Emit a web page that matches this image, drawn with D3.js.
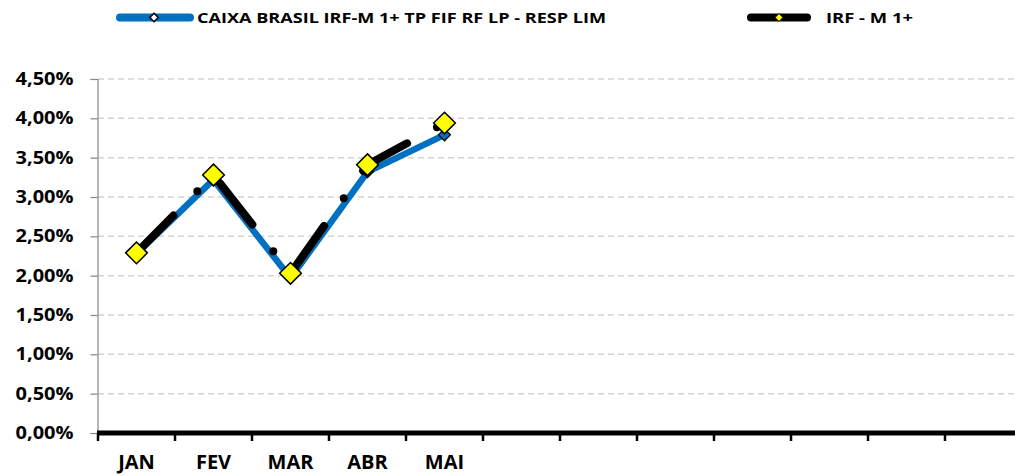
<!DOCTYPE html>
<html>
<head>
<meta charset="utf-8">
<script src="https://cdn.jsdelivr.net/npm/d3@7"></script>
<style>
  html, body { margin: 0; padding: 0; background: #fff; overflow: hidden; }
  svg { display: block; }
  text { font-family: "Open Sans", "Liberation Sans", sans-serif; font-weight: bold; fill: #000; }
</style>
</head>
<body>
<div id="chart"></div>
<script>
let months = ["JAN", "FEV", "MAR", "ABR", "MAI", "JUN", "JUL", "AGO", "SET", "OUT", "NOV", "DEZ"];
let fundValues = [0.0228, 0.0322, 0.0197, 0.0332, 0.0379];
let indexValues = [0.0229, 0.0328, 0.0203, 0.0341, 0.0394];
let yTicks = [0, 0.005, 0.01, 0.015, 0.02, 0.025, 0.03, 0.035, 0.04, 0.045];
let seriesNames = ["CAIXA BRASIL IRF-M 1+ TP FIF RF LP - RESP LIM", "IRF - M 1+"];

var width = 1015, height = 476;

var svg = d3.select('#chart')
    .append('svg')
    .attr('width', width)
    .attr('height', height);

var x = d3.scaleBand()
    .domain(months)
    .range([98, 98 + 77 * 12])
    .paddingInner(0)
    .paddingOuter(0);

var y = d3.scaleLinear()
    .domain([0, 0.045])
    .range([433, 79]);

var fmt = function (d) { return (d * 100).toFixed(2).replace('.', ',') + '%'; };

// gridlines
svg.append('g')
    .selectAll('line')
    .data(yTicks.filter(function (d) { return d > 0; }))
    .enter()
    .append('line')
    .attr('x1', 98)
    .attr('x2', width)
    .attr('y1', function (d) { return y(d); })
    .attr('y2', function (d) { return y(d); })
    .attr('stroke', '#d4d4d4')
    .attr('stroke-width', 1.5)
    .attr('stroke-dasharray', '6,4');

// y axis
var yAxis = svg.append('g')
    .attr('transform', 'translate(97.5,0)')
    .call(d3.axisLeft(y).tickValues(yTicks).tickFormat(fmt).tickSize(7).tickPadding(17));
yAxis.select('.domain').attr('stroke', '#868686').attr('stroke-width', 1.2);
yAxis.selectAll('.tick line').attr('stroke', '#868686').attr('stroke-width', 1.2);
yAxis.selectAll('.tick text')
    .style('font-size', '17px')
    .attr('textLength', 58)
    .attr('lengthAdjust', 'spacingAndGlyphs');

// x axis
var xAxis = svg.append('g')
    .attr('transform', 'translate(0,433)')
    .call(d3.axisBottom(x)
        .tickFormat(function (d, i) { return i < fundValues.length ? d : ''; })
        .tickSize(0));
xAxis.select('.domain').remove();
xAxis.selectAll('.tick text')
    .attr('y', 22)
    .style('font-size', '20px');

svg.append('g')
    .selectAll('line')
    .data(months)
    .enter()
    .append('line')
    .attr('x1', function (d) { return x(d); })
    .attr('x2', function (d) { return x(d); })
    .attr('y1', 433)
    .attr('y2', 441)
    .attr('stroke', '#000')
    .attr('stroke-width', 2.5);

svg.append('line')
    .attr('x1', 97)
    .attr('x2', width)
    .attr('y1', 433)
    .attr('y2', 433)
    .attr('stroke', '#000')
    .attr('stroke-width', 5);

var cx = function (d, i) { return x(months[i]) + x.bandwidth() / 2; };
var line = d3.line()
    .x(cx)
    .y(function (d) { return y(d); });

var diamond = d3.symbol().type(d3.symbolDiamond2);

// fund series
svg.append('path')
    .datum(fundValues)
    .attr('d', line)
    .attr('fill', 'none')
    .attr('stroke', '#0070c0')
    .attr('stroke-width', 6.5)
    .attr('stroke-linejoin', 'round')
    .attr('stroke-linecap', 'round');

svg.append('g')
    .selectAll('path')
    .data(fundValues)
    .enter()
    .append('path')
    .attr('d', diamond.size(90))
    .attr('transform', function (d, i) { return 'translate(' + cx(d, i) + ',' + y(d) + ')'; })
    .attr('fill', '#0070c0')
    .attr('stroke', '#000')
    .attr('stroke-width', 1.2);

// index series
svg.append('path')
    .datum(indexValues)
    .attr('d', line)
    .attr('fill', 'none')
    .attr('stroke', '#000')
    .attr('stroke-width', 8)
    .attr('stroke-linejoin', 'round')
    .attr('stroke-linecap', 'round')
    .attr('stroke-dasharray', '52.5,34,0,33.5');

svg.append('g')
    .selectAll('path')
    .data(indexValues)
    .enter()
    .append('path')
    .attr('d', diamond.size(300))
    .attr('transform', function (d, i) { return 'translate(' + cx(d, i) + ',' + y(d) + ')'; })
    .attr('fill', '#ffff00')
    .attr('stroke', '#000')
    .attr('stroke-width', 1.5);

// legend
var legend = svg.append('g');

legend.append('line')
    .attr('x1', 120).attr('x2', 190)
    .attr('y1', 17.5).attr('y2', 17.5)
    .attr('stroke', '#0070c0')
    .attr('stroke-width', 8)
    .attr('stroke-linecap', 'round');
legend.append('path')
    .attr('d', d3.symbol().type(d3.symbolDiamond2).size(45)())
    .attr('transform', 'translate(154,17.5)')
    .attr('fill', '#fff')
    .attr('stroke', '#000')
    .attr('stroke-width', 1.6);
legend.append('text')
    .attr('x', 197)
    .attr('y', 23)
    .style('font-size', '15px')
    .attr('textLength', 409)
    .attr('lengthAdjust', 'spacingAndGlyphs')
    .text(seriesNames[0]);

legend.append('line')
    .attr('x1', 751).attr('x2', 807)
    .attr('y1', 17.5).attr('y2', 17.5)
    .attr('stroke', '#000')
    .attr('stroke-width', 8)
    .attr('stroke-linecap', 'round');
legend.append('path')
    .attr('d', d3.symbol().type(d3.symbolDiamond2).size(40)())
    .attr('transform', 'translate(779,17.5)')
    .attr('fill', '#ffff00')
    .attr('stroke', '#000')
    .attr('stroke-width', 1);
legend.append('text')
    .attr('x', 826)
    .attr('y', 23)
    .style('font-size', '15px')
    .attr('textLength', 87)
    .attr('lengthAdjust', 'spacingAndGlyphs')
    .text(seriesNames[1]);
</script>
</body>
</html>
